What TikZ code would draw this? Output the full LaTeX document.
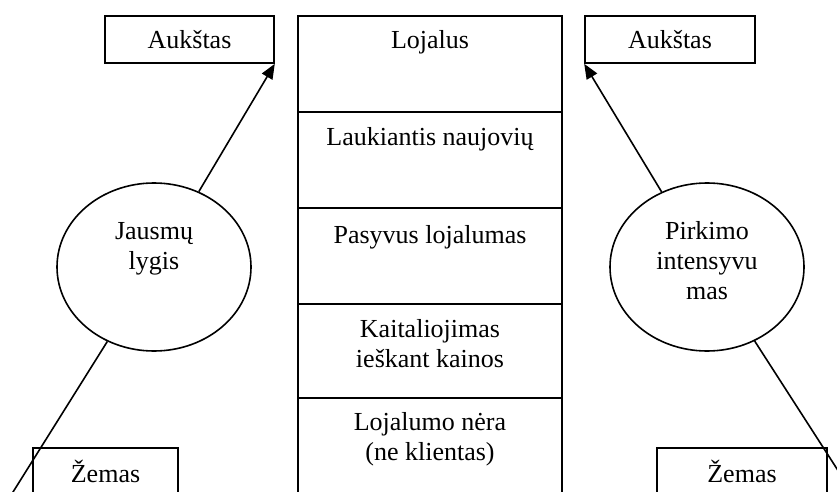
\documentclass[tikz,border=0pt]{standalone}
\usepackage{fontspec}
\setmainfont{Liberation Serif}
\usetikzlibrary{positioning,shapes.geometric,arrows.meta}
\tikzset{
  lbox/.style={draw, line width=1.6pt, inner sep=0pt, minimum height=47pt},
  cell/.style={draw, line width=1.6pt, inner sep=0pt, minimum width=264pt, minimum height=96pt},
  oval/.style={draw, ellipse, line width=1.6pt, inner sep=0pt, minimum width=194pt, minimum height=168pt},
  txt/.style={inner sep=0pt, align=center, font=\fontsize{26}{30}\selectfont},
  link/.style={line width=1.6pt},
  uparrow/.style={link, -{Triangle[length=15pt,width=12pt]}},
}
\begin{document}
\begin{tikzpicture}[x=1pt, y=-1pt]
  \useasboundingbox (0,0) rectangle (837,492);
  \clip (0,0) rectangle (837,492);
  % Loyalty column
  \node[cell] (c1) at (430,64) {};
  \node[cell] (c2) at (430,160) {};
  \node[cell] (c3) at (430,256) {};
  \node[cell, minimum height=94pt] (c4) at (430,351) {};
  \node[cell] (c5) at (430,446) {};
  \node[txt, below=15pt of c1.north] (t1) {Lojalus};
  \node[txt, below=16pt of c2.north] (t2) {Laukiantis naujovių};
  \node[txt, below=18pt of c3.north] (t3) {Pasyvus lojalumas};
  \node[txt, below=16pt of c4.north] (t4) {Kaitaliojimas\\ieškant kainos};
  \node[txt, below=15pt of c5.north] (t5) {Lojalumo nėra\\(ne klientas)};
  % Left: feelings
  \node[lbox, txt, minimum width=169pt] (ja) at (189.5,39.5) {Aukštas};
  \node[lbox, txt, minimum width=145pt] (jz) at (105.5,471.5) {Žemas};
  \node[oval] (je) at (154,267) {};
  \node[txt, below=40pt of je.north] (jtxt) {Jausmų\\lygis};
  \coordinate (jend) at (8,500);
  % Right: purchase intensity
  \node[lbox, txt, minimum width=170pt] (pa) at (670,39.5) {Aukštas};
  \node[lbox, txt, minimum width=170pt] (pz) at (742,471.5) {Žemas};
  \node[oval] (pe) at (707,267) {};
  \node[txt, below=39pt of pe.north] (ptxt) {Pirkimo\\intensyvu\\mas};
  \coordinate (pend) at (857,500);
  % Connectors
  \draw[uparrow] (je) -- (ja.south east);
  \draw[link] (je) -- (jend);
  \draw[uparrow] (pe) -- (pa.south west);
  \draw[link] (pe) -- (pend);
\end{tikzpicture}
\end{document}
